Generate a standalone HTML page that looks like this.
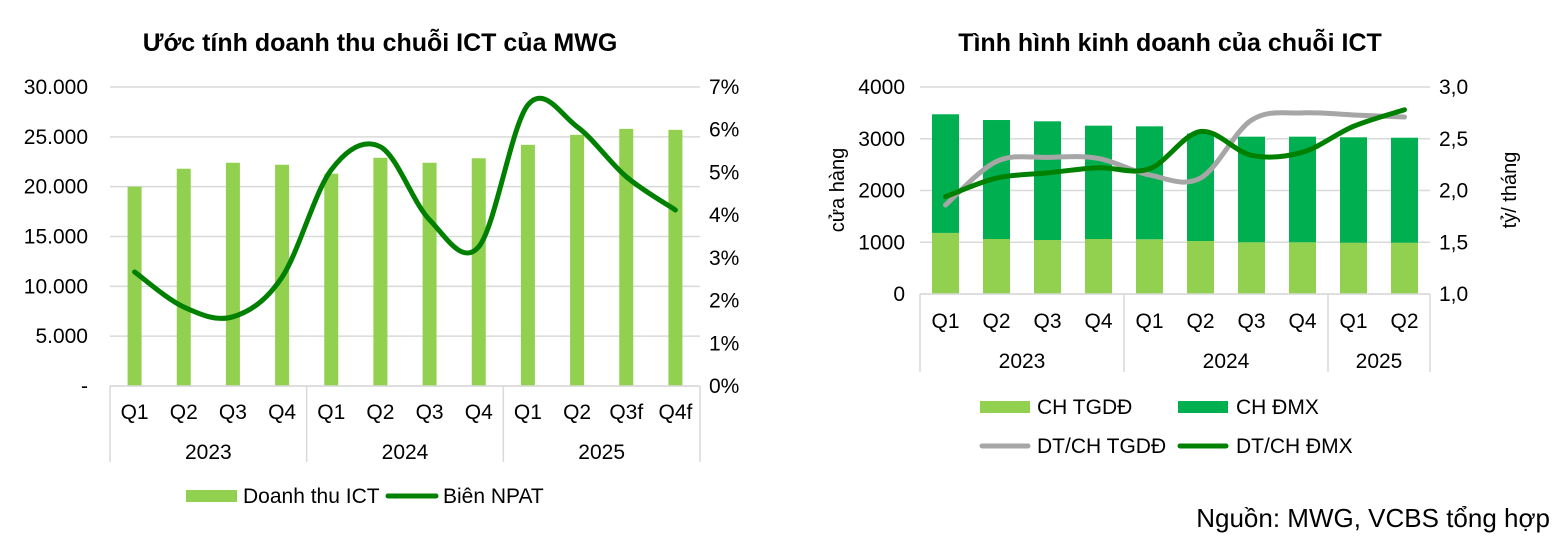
<!DOCTYPE html>
<html><head><meta charset="utf-8"><style>
html,body{margin:0;padding:0;background:#fff;}
svg{display:block;font-family:"Liberation Sans",Arial,sans-serif;}
</style></head><body>
<svg id="s" width="1560" height="545" viewBox="0 0 1560 545">
<text x="380" y="51" text-anchor="middle" font-size="25" font-weight="bold">Ước tính doanh thu chuỗi ICT của MWG</text>
<text x="1170" y="51" text-anchor="middle" font-size="25" font-weight="bold">Tình hình kinh doanh của chuỗi ICT</text>
<text x="1550" y="527" text-anchor="end" font-size="26">Nguồn: MWG, VCBS tổng hợp</text>
<text transform="translate(844,190) rotate(-90)" text-anchor="middle" font-size="20">cửa hàng</text>
<text transform="translate(1516,190) rotate(-90)" text-anchor="middle" font-size="20">tỷ/ tháng</text>
<g id="c1"></g>
<g id="c2"></g>
</svg>
<script>
// Chart 1 data
const cats1 = ["Q1","Q2","Q3","Q4","Q1","Q2","Q3","Q4","Q1","Q2","Q3f","Q4f"];
const years1 = ["2023","2024","2025"];
const revenue = [20000,21800,22400,22200,21300,22900,22400,22850,24200,25200,25800,25700];
const margin = [2.67,1.85,1.62,2.55,5.06,5.6,3.89,3.26,6.58,6.07,4.9,4.12];
const leftTicks1 = ["-","5.000","10.000","15.000","20.000","25.000","30.000"];
const rightTicks1 = ["0%","1%","2%","3%","4%","5%","6%","7%"];
// Chart 2 data
const cats2 = ["Q1","Q2","Q3","Q4","Q1","Q2","Q3","Q4","Q1","Q2"];
const years2 = ["2023","2024","2025"];
const storesTGDD = [1180,1063,1043,1063,1057,1024,1000,1000,990,990];
const storesDMX = [2293,2299,2294,2190,2183,2076,2040,2040,2038,2030];
const revTGDD = [1.86,2.28,2.32,2.31,2.15,2.12,2.68,2.75,2.73,2.71];
const revDMX = [1.94,2.12,2.17,2.22,2.21,2.57,2.34,2.37,2.62,2.78];
const leftTicks2 = ["0","1000","2000","3000","4000"];
const rightTicks2 = ["1,0","1,5","2,0","2,5","3,0"];

const NS="http://www.w3.org/2000/svg";
function mk(parent,tag,attrs,text){const e=document.createElementNS(NS,tag);for(const k in attrs)e.setAttribute(k,attrs[k]);if(text!==undefined)e.textContent=text;parent.appendChild(e);return e;}
function smooth(pts){let d="M"+pts[0][0]+","+pts[0][1];for(let i=0;i<pts.length-1;i++){const p0=pts[Math.max(0,i-1)],p1=pts[i],p2=pts[i+1],p3=pts[Math.min(pts.length-1,i+2)];const t=6;d+=" C"+(p1[0]+(p2[0]-p0[0])/t)+","+(p1[1]+(p2[1]-p0[1])/t)+" "+(p2[0]-(p3[0]-p1[0])/t)+","+(p2[1]-(p3[1]-p1[1])/t)+" "+p2[0]+","+p2[1];}return d;}
const FS=21;

// ---- Chart 1
(function(){
const g=document.getElementById('c1');
const L=110,R=700,T=87,B=386,n=cats1.length,cw=(R-L)/n;
const y=v=>B-(v/30000)*(B-T), y2=v=>B-(v/7)*(B-T), x=i=>L+cw*(i+0.5);
for(let i=0;i<leftTicks1.length;i++){const yy=B-i*(B-T)/6;
 const gl=mk(g,'line',{x1:L,x2:R,y1:yy,y2:yy,stroke:'#d9d9d9','stroke-width':1.5});
 
 const t=mk(g,'text',{x:88,y:yy+7,'text-anchor':'end','font-size':FS},leftTicks1[i]);
 }
for(let i=0;i<rightTicks1.length;i++){const t=mk(g,'text',{x:709,y:B-i*(B-T)/7+7,'font-size':FS},rightTicks1[i]);
 }
revenue.forEach((v,i)=>{const r=mk(g,'rect',{x:x(i)-7,y:y(v),width:14,height:B-y(v),fill:'#92d050'});
 });
const p=mk(g,'path',{d:smooth(margin.map((v,i)=>[x(i),y2(v)])),fill:'none',stroke:'#008000','stroke-width':5,'stroke-linecap':'round'});

mk(g,'line',{x1:L,x2:R,y1:B,y2:B,stroke:'#d9d9d9','stroke-width':1.5});
[0,4,8,12].forEach(k=>{const s=mk(g,'line',{x1:L+k*cw,x2:L+k*cw,y1:B,y2:462,stroke:'#d9d9d9','stroke-width':1.5});
 });
cats1.forEach((c,i)=>{const t=mk(g,'text',{x:x(i),y:419,'text-anchor':'middle','font-size':FS},c);
 });
years1.forEach((c,i)=>{const t=mk(g,'text',{x:L+(i*4+2)*cw,y:459,'text-anchor':'middle','font-size':FS},c);
 });
const lb=mk(g,'rect',{x:186,y:490,width:51,height:12,fill:'#92d050'});

const lt=mk(g,'text',{x:243,y:503,'font-size':FS},'Doanh thu ICT');

const ll=mk(g,'line',{x1:388,x2:436,y1:496,y2:496,stroke:'#008000','stroke-width':5,'stroke-linecap':'round'});

const lt2=mk(g,'text',{x:443,y:503,'font-size':FS},'Biên NPAT');

})();

// ---- Chart 2
(function(){
const g=document.getElementById('c2');
const L=920,R=1430,T=87,B=294,n=cats2.length,cw=(R-L)/n;
const y=v=>B-(v/4000)*(B-T), y2=v=>B-((v-1)/2)*(B-T), x=i=>L+cw*(i+0.5);
for(let i=0;i<leftTicks2.length;i++){const yy=B-i*(B-T)/4;
 const gl=mk(g,'line',{x1:L,x2:R,y1:yy,y2:yy,stroke:'#d9d9d9','stroke-width':1.5});
 
 const t=mk(g,'text',{x:905,y:yy+7,'text-anchor':'end','font-size':FS},leftTicks2[i]);
 
 const t2=mk(g,'text',{x:1439,y:yy+7,'font-size':FS},rightTicks2[i]);
 }
storesTGDD.forEach((v,i)=>{const r=mk(g,'rect',{x:x(i)-13.5,y:y(v),width:27,height:B-y(v),fill:'#92d050'});
 
 const d=storesDMX[i];const r2=mk(g,'rect',{x:x(i)-13.5,y:y(v+d),width:27,height:y(v)-y(v+d),fill:'#00b050'});
 });
const p1=mk(g,'path',{d:smooth(revTGDD.map((v,i)=>[x(i),y2(v)])),fill:'none',stroke:'#a6a6a6','stroke-width':5,'stroke-linecap':'round'});

const p2=mk(g,'path',{d:smooth(revDMX.map((v,i)=>[x(i),y2(v)])),fill:'none',stroke:'#008000','stroke-width':5,'stroke-linecap':'round'});

mk(g,'line',{x1:L,x2:R,y1:B,y2:B,stroke:'#d9d9d9','stroke-width':1.5});
[0,4,8,10].forEach(k=>{const s=mk(g,'line',{x1:L+k*cw,x2:L+k*cw,y1:B,y2:372,stroke:'#d9d9d9','stroke-width':1.5});
 });
cats2.forEach((c,i)=>{const t=mk(g,'text',{x:x(i),y:328,'text-anchor':'middle','font-size':FS},c);
 });
[[0,4],[4,8],[8,10]].forEach((r,i)=>{const t=mk(g,'text',{x:L+(r[0]+r[1])/2*cw,y:368,'text-anchor':'middle','font-size':FS},years2[i]);
 });
const a=mk(g,'rect',{x:980,y:401,width:50,height:12,fill:'#92d050'});

const at=mk(g,'text',{x:1037,y:414,'font-size':FS},'CH TGDĐ');

const b=mk(g,'rect',{x:1178,y:401,width:50,height:12,fill:'#00b050'});

const bt=mk(g,'text',{x:1236,y:414,'font-size':FS},'CH ĐMX');

const c=mk(g,'line',{x1:982,x2:1028,y1:446,y2:446,stroke:'#a6a6a6','stroke-width':5,'stroke-linecap':'round'});

const ct=mk(g,'text',{x:1037,y:453,'font-size':FS},'DT/CH TGDĐ');

const d=mk(g,'line',{x1:1180,x2:1226,y1:446,y2:446,stroke:'#008000','stroke-width':5,'stroke-linecap':'round'});

const dt=mk(g,'text',{x:1236,y:453,'font-size':FS},'DT/CH ĐMX');

})();
</script>
</body></html>
